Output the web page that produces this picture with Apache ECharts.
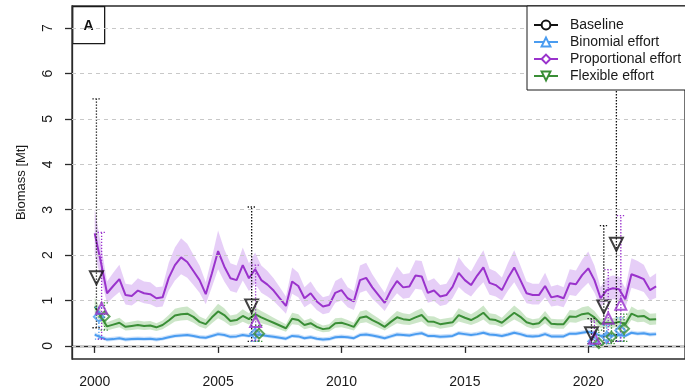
<!DOCTYPE html>
<html>
<head>
<meta charset="utf-8">
<script src="https://cdn.jsdelivr.net/npm/echarts@6/dist/echarts.min.js"></script>
<style>
  html, body { margin: 0; padding: 0; background: #ffffff; }
  #chart { width: 685px; height: 392px; }
</style>
</head>
<body>
<div id="chart"></div>
<script>
// Quarterly biomass estimates, 2000 Q1 .. 2022 Q4
const FIRST_YEAR = 2000;
const N_QUARTERS = 92;
const quarters = Array.from({ length: N_QUARTERS }, (_, i) => FIRST_YEAR + i / 4);

const yearTicks = [2000, 2005, 2010, 2015, 2020];
const biomassTicks = [0, 1, 2, 3, 4, 5, 6, 7];

// Proportional effort: median and credible band
const propMid = [
  2.48,1.85,1.16,1.32,1.47,1.12,1.10,1.22,1.16,1.14,1.05,1.07,
  1.50,1.78,1.95,1.85,1.65,1.45,1.14,1.60,2.09,1.75,1.49,1.45,
  1.78,1.49,1.69,1.45,1.35,1.22,1.05,0.88,1.42,1.32,1.05,1.16,
  0.98,0.87,0.90,1.17,1.23,1.05,0.98,1.45,1.50,1.29,1.12,0.95,
  1.22,1.43,1.29,1.31,1.55,1.53,1.17,1.22,1.09,1.12,1.30,1.61,
  1.45,1.34,1.55,1.73,1.39,1.34,1.23,1.50,1.73,1.45,1.16,1.12,
  1.12,1.32,1.07,1.10,1.05,1.38,1.36,1.56,1.71,1.45,1.05,1.23,
  1.27,1.25,1.03,1.58,1.53,1.47,1.23,1.31
];
const propHi = [
  3.01,2.25,1.42,1.61,1.79,1.37,1.35,1.49,1.42,1.40,1.29,1.31,
  1.83,2.17,2.37,2.25,2.01,1.77,1.40,1.95,2.54,2.13,1.82,1.77,
  2.17,1.82,2.06,1.77,1.65,1.49,1.29,1.09,1.73,1.61,1.29,1.42,
  1.21,1.07,1.11,1.43,1.51,1.29,1.21,1.77,1.83,1.58,1.37,1.17,
  1.49,1.75,1.58,1.60,1.89,1.87,1.43,1.49,1.34,1.37,1.59,1.96,
  1.77,1.64,1.89,2.11,1.70,1.64,1.51,1.83,2.11,1.77,1.42,1.37,
  1.37,1.61,1.31,1.35,1.29,1.69,1.66,1.90,2.08,1.77,1.29,1.51,
  1.55,1.53,1.27,1.93,1.87,1.79,1.51,1.60
];
const propLo = [
  2.01,1.50,0.94,1.07,1.19,0.91,0.89,0.99,0.94,0.92,0.85,0.87,
  1.22,1.44,1.58,1.50,1.34,1.17,0.92,1.30,1.69,1.42,1.21,1.17,
  1.44,1.21,1.37,1.17,1.09,0.99,0.85,0.71,1.15,1.07,0.85,0.94,
  0.79,0.70,0.73,0.95,1.00,0.85,0.79,1.17,1.22,1.04,0.91,0.77,
  0.99,1.16,1.04,1.06,1.26,1.24,0.95,0.99,0.88,0.91,1.05,1.30,
  1.17,1.09,1.26,1.40,1.13,1.09,1.00,1.22,1.40,1.17,0.94,0.91,
  0.91,1.07,0.87,0.89,0.85,1.12,1.10,1.26,1.39,1.17,0.85,1.00,
  1.03,1.01,0.83,1.28,1.24,1.19,1.00,1.06
];

// Flexible effort
const flexMid = [
  0.87,0.65,0.43,0.47,0.51,0.42,0.44,0.46,0.44,0.45,0.41,0.46,
  0.56,0.67,0.70,0.71,0.64,0.53,0.48,0.63,0.76,0.68,0.55,0.57,
  0.66,0.59,0.70,0.63,0.57,0.51,0.45,0.39,0.60,0.57,0.46,0.50,
  0.42,0.37,0.39,0.50,0.51,0.47,0.42,0.62,0.65,0.57,0.50,0.42,
  0.53,0.63,0.59,0.57,0.63,0.68,0.54,0.53,0.48,0.50,0.52,0.68,
  0.62,0.57,0.64,0.73,0.59,0.57,0.51,0.62,0.73,0.64,0.52,0.48,
  0.50,0.63,0.49,0.48,0.48,0.65,0.64,0.70,0.72,0.63,0.49,0.51,
  0.50,0.53,0.48,0.71,0.65,0.66,0.58,0.59
];
const flexHi = [
  1.06,0.79,0.52,0.57,0.62,0.51,0.54,0.56,0.54,0.55,0.50,0.56,
  0.68,0.82,0.85,0.87,0.78,0.65,0.59,0.77,0.93,0.83,0.67,0.70,
  0.81,0.72,0.85,0.77,0.70,0.62,0.55,0.48,0.73,0.70,0.56,0.61,
  0.51,0.45,0.48,0.61,0.62,0.57,0.51,0.76,0.79,0.70,0.61,0.51,
  0.65,0.77,0.72,0.70,0.77,0.83,0.66,0.65,0.59,0.61,0.63,0.83,
  0.76,0.70,0.78,0.89,0.72,0.70,0.62,0.76,0.89,0.78,0.63,0.59,
  0.61,0.77,0.60,0.59,0.59,0.79,0.78,0.85,0.88,0.77,0.60,0.62,
  0.61,0.65,0.59,0.87,0.79,0.81,0.71,0.72
];
const flexLo = [
  0.70,0.52,0.34,0.38,0.41,0.34,0.35,0.37,0.35,0.36,0.33,0.37,
  0.45,0.54,0.56,0.57,0.51,0.42,0.38,0.50,0.61,0.54,0.44,0.46,
  0.53,0.47,0.56,0.50,0.46,0.41,0.36,0.31,0.48,0.46,0.37,0.40,
  0.34,0.30,0.31,0.40,0.41,0.38,0.34,0.50,0.52,0.46,0.40,0.34,
  0.42,0.50,0.47,0.46,0.50,0.54,0.43,0.42,0.38,0.40,0.42,0.54,
  0.50,0.46,0.51,0.58,0.47,0.46,0.41,0.50,0.58,0.51,0.42,0.38,
  0.40,0.50,0.39,0.38,0.38,0.52,0.51,0.56,0.58,0.50,0.39,0.41,
  0.40,0.42,0.38,0.57,0.52,0.53,0.46,0.47
];

// Binomial effort
const binMid = [
  0.25,0.19,0.14,0.15,0.17,0.14,0.15,0.16,0.15,0.16,0.14,0.16,
  0.19,0.22,0.23,0.24,0.22,0.19,0.18,0.22,0.26,0.24,0.20,0.21,
  0.24,0.22,0.26,0.24,0.22,0.20,0.18,0.16,0.22,0.21,0.17,0.19,
  0.16,0.14,0.15,0.19,0.20,0.19,0.17,0.24,0.25,0.23,0.20,0.17,
  0.21,0.25,0.24,0.23,0.26,0.28,0.22,0.22,0.20,0.21,0.22,0.28,
  0.26,0.24,0.26,0.29,0.25,0.24,0.22,0.25,0.29,0.26,0.22,0.21,
  0.22,0.26,0.21,0.21,0.21,0.27,0.27,0.29,0.31,0.28,0.22,0.23,
  0.23,0.24,0.22,0.29,0.27,0.28,0.25,0.26
];
const binHi = [
  0.30,0.24,0.19,0.20,0.22,0.19,0.20,0.21,0.20,0.21,0.19,0.21,
  0.24,0.27,0.28,0.29,0.27,0.24,0.23,0.27,0.31,0.29,0.25,0.26,
  0.29,0.27,0.31,0.29,0.27,0.25,0.23,0.21,0.27,0.26,0.22,0.24,
  0.21,0.19,0.20,0.24,0.25,0.24,0.22,0.29,0.30,0.28,0.25,0.22,
  0.26,0.30,0.29,0.28,0.31,0.33,0.27,0.27,0.25,0.26,0.27,0.33,
  0.31,0.29,0.31,0.34,0.30,0.29,0.27,0.30,0.34,0.31,0.27,0.26,
  0.27,0.31,0.26,0.26,0.26,0.32,0.32,0.34,0.36,0.33,0.27,0.28,
  0.28,0.29,0.27,0.34,0.32,0.33,0.30,0.31
];
const binLo = [
  0.21,0.15,0.10,0.11,0.13,0.10,0.11,0.12,0.11,0.12,0.10,0.12,
  0.15,0.18,0.19,0.20,0.18,0.15,0.14,0.18,0.22,0.20,0.16,0.17,
  0.20,0.18,0.22,0.20,0.18,0.16,0.14,0.12,0.18,0.17,0.13,0.15,
  0.12,0.10,0.11,0.15,0.16,0.15,0.13,0.20,0.21,0.19,0.16,0.13,
  0.17,0.21,0.20,0.19,0.22,0.24,0.18,0.18,0.16,0.17,0.18,0.24,
  0.22,0.20,0.22,0.25,0.21,0.20,0.18,0.21,0.25,0.22,0.18,0.17,
  0.18,0.22,0.17,0.17,0.17,0.23,0.23,0.25,0.27,0.24,0.18,0.19,
  0.19,0.20,0.18,0.25,0.23,0.24,0.21,0.22
];

// Survey estimates: [time, estimate, lower, upper]
const baselineSurvey = [
  [2000.07, 1.50, 0.40, 5.44], [2006.36, 0.88, 0.10, 3.06],
  [2020.13, 0.27, 0.05, 0.60], [2020.63, 0.86, 0.05, 2.65], [2021.14, 2.24, 0.10, 9.00]
];
const binomialSurvey = [
  [2000.17, 0.64, 0.15, 0.85], [2006.50, 0.27, 0.10, 0.42],
  [2020.20, 0.10, 0.00, 0.30], [2020.75, 0.20, 0.05, 0.45], [2021.30, 0.34, 0.10, 0.62]
];
const proportionalSurvey = [
  [2000.28, 0.83, 0.15, 2.50], [2006.52, 0.54, 0.12, 1.78],
  [2020.25, 0.17, 0.04, 0.55], [2020.81, 0.61, 0.08, 1.68], [2021.32, 0.92, 0.10, 2.87]
];
const flexibleSurvey = [
  [2000.40, 0.65, 0.35, 0.95], [2006.66, 0.27, 0.10, 0.45],
  [2020.43, 0.06, 0.02, 0.35], [2020.94, 0.20, 0.05, 0.50], [2021.45, 0.38, 0.10, 0.70]
];

const FONT = '"Liberation Sans", Arial, Helvetica, sans-serif';
const COL = {
  base: '#111111',
  bin: '#4a9cf0',
  prop: '#9a33cc',
  flex: '#3a8e36'
};
const BAND = {
  bin: 'rgba(110,170,240,0.35)',
  prop: 'rgba(190,125,235,0.38)',
  flex: 'rgba(120,190,110,0.38)'
};

const pairs = (vals) => quarters.map((t, i) => [t, vals[i]]);

// Shaded band drawn as one polygon through the axis scales
function bandSeries(name, lo, hi, color) {
  return {
    type: 'custom',
    name: name,
    silent: true,
    z: 1,
    data: [[quarters[0], lo[0]]],
    encode: { x: 0, y: 1 },
    renderItem: function (params, api) {
      const pts = [];
      for (let i = 0; i < quarters.length; i++) pts.push(api.coord([quarters[i], hi[i]]));
      for (let i = quarters.length - 1; i >= 0; i--) pts.push(api.coord([quarters[i], lo[i]]));
      return { type: 'polygon', shape: { points: pts }, style: { fill: color } };
    }
  };
}

// Dotted interval with dotted end caps
function errorSeries(name, rows, color) {
  return {
    type: 'custom',
    name: name,
    silent: true,
    clip: true,
    z: 3,
    data: rows.map(r => [r[0], r[2], r[3]]),
    encode: { x: 0, y: [1, 2] },
    renderItem: function (params, api) {
      const x = api.value(0);
      const a = api.coord([x, api.value(1)]);
      const b = api.coord([x, api.value(2)]);
      const cap = 4;
      const st = { stroke: color, lineWidth: 1.3, lineDash: [1.3, 1.7], fill: null };
      return {
        type: 'group',
        children: [
          { type: 'line', shape: { x1: a[0], y1: a[1], x2: b[0], y2: b[1] }, style: st },
          { type: 'line', shape: { x1: a[0] - cap, y1: a[1], x2: a[0] + cap, y2: a[1] }, style: st },
          { type: 'line', shape: { x1: b[0] - cap, y1: b[1], x2: b[0] + cap, y2: b[1] }, style: st }
        ]
      };
    }
  };
}

function markerSeries(name, rows, color, symbol, rotate, size) {
  return {
    type: 'scatter',
    name: name,
    silent: true,
    z: 4,
    symbol: symbol,
    symbolRotate: rotate,
    symbolSize: size,
    itemStyle: { color: 'rgba(0,0,0,0)', borderColor: color, borderWidth: 2 },
    data: rows.map(r => [r[0], r[1]])
  };
}

function lineSeries(name, vals, color, symbol, rotate) {
  return {
    type: 'line',
    name: name,
    data: vals ? pairs(vals) : [],
    showSymbol: false,
    symbol: symbol,
    symbolRotate: rotate,
    color: color,
    lineStyle: { color: color, width: 2 },
    z: 2,
    silent: true
  };
}

const chart = echarts.init(document.getElementById('chart'), null, { renderer: 'canvas' });

const gridBand = bandSeries('propBand', propLo, propHi, BAND.prop);
gridBand.markLine = {
  silent: true,
  symbol: 'none',
  label: { show: false },
  lineStyle: { color: '#c8c8c8', type: [4, 4], width: 1 },
  data: biomassTicks.map(v => ({ yAxis: v }))
};
gridBand.z = 1;

chart.setOption({
  animation: false,
  backgroundColor: '#ffffff',
  textStyle: { fontFamily: FONT },
  grid: {
    left: 72, top: 6, right: -2, bottom: 33,
    show: true, borderColor: '#2a2a2a', borderWidth: 1.3, backgroundColor: 'transparent'
  },
  xAxis: {
    type: 'value',
    min: 1999.08,
    max: 2023.92,
    axisLine: { show: true, lineStyle: { color: '#2a2a2a', width: 1.3 } },
    axisTick: { show: true, length: 7, customValues: yearTicks, lineStyle: { color: '#2a2a2a', width: 1.3 } },
    axisLabel: { customValues: yearTicks, margin: 16, fontSize: 14, color: '#1a1a1a', fontFamily: FONT,
                 formatter: v => String(v) },
    splitLine: { show: false }
  },
  yAxis: {
    type: 'value',
    min: -0.288,
    max: 7.488,
    name: 'Biomass [Mt]',
    nameLocation: 'middle',
    nameGap: 44,
    nameTextStyle: { fontSize: 13, color: '#1a1a1a', fontFamily: FONT },
    axisLine: { show: true, lineStyle: { color: '#2a2a2a', width: 1.3 } },
    axisTick: { show: true, length: 7, customValues: biomassTicks, lineStyle: { color: '#2a2a2a', width: 1.3 } },
    axisLabel: { customValues: biomassTicks, rotate: 90, margin: 17, fontSize: 14, color: '#1a1a1a', fontFamily: FONT },
    splitLine: { show: false }
  },
  legend: {
    data: ['Baseline', 'Binomial effort', 'Proportional effort', 'Flexible effort'],
    orient: 'vertical',
    left: 527,
    top: 6,
    padding: [11, 14, 6, 6],
    itemGap: 1,
    itemWidth: 24,
    itemHeight: 11,
    selectedMode: false,
    backgroundColor: '#ffffff',
    borderColor: '#1a1a1a',
    borderWidth: 1,
    borderRadius: 0,
    textStyle: { fontSize: 14, lineHeight: 16, color: '#1a1a1a', fontFamily: FONT, padding: [0, 0, 0, 7] },
    z: 10
  },
  graphic: [
    {
      type: 'group',
      left: 72,
      top: 6,
      z: 10,
      children: [
        { type: 'rect', shape: { x: 0, y: 0, width: 32, height: 37 },
          style: { fill: '#ffffff', stroke: '#1a1a1a', lineWidth: 1.3 } },
        { type: 'text', x: 16, y: 19,
          style: { text: 'A', font: 'bold 14px ' + FONT, fill: '#111', align: 'center', verticalAlign: 'middle' } }
      ]
    }
  ],
  series: [
    gridBand,
    bandSeries('flexBand', flexLo, flexHi, BAND.flex),
    bandSeries('binBand', binLo, binHi, BAND.bin),
    lineSeries('Baseline', null, COL.base, 'emptyCircle', 0),
    lineSeries('Binomial effort', binMid, COL.bin, 'emptyTriangle', 0),
    lineSeries('Proportional effort', propMid, COL.prop, 'emptyDiamond', 0),
    lineSeries('Flexible effort', flexMid, COL.flex, 'emptyTriangle', 180),
    errorSeries('baselineInterval', baselineSurvey, COL.base),
    errorSeries('binomialInterval', binomialSurvey, COL.bin),
    errorSeries('proportionalInterval', proportionalSurvey, COL.prop),
    errorSeries('flexibleInterval', flexibleSurvey, COL.flex),
    markerSeries('binomialEstimate', binomialSurvey, COL.bin, 'diamond', 0, 10),
    markerSeries('flexibleEstimate', flexibleSurvey, COL.flex, 'diamond', 0, 10),
    markerSeries('proportionalEstimate', proportionalSurvey, COL.prop, 'triangle', 0, 11),
    markerSeries('baselineEstimate', baselineSurvey, COL.base, 'triangle', 180, 13)
  ]
});
</script>
</body>
</html>
